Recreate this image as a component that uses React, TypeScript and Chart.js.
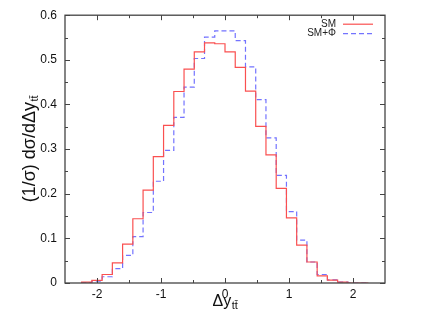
import React, { useEffect, useRef } from "react";
import { Chart, registerables } from "chart.js";

Chart.register(...registerables);

// Histogram bin edges in Δy_tt̄ (bin width 0.16)
const binEdges = [
  -2.24, -2.08, -1.92, -1.76, -1.6, -1.44, -1.28, -1.12, -0.96, -0.8, -0.64, -0.48, -0.32, -0.16,
  0, 0.16, 0.32, 0.48, 0.64, 0.8, 0.96, 1.12, 1.28, 1.44, 1.6, 1.76, 1.92, 2.08, 2.24,
];

// (1/σ) dσ/dΔy for each bin (one value per bin, left edge order)
const smValues = [
  0, 0.002, 0.006, 0.019, 0.045, 0.087, 0.144, 0.208, 0.283, 0.353, 0.429, 0.479, 0.518, 0.538,
  0.536, 0.518, 0.483, 0.43, 0.351, 0.287, 0.212, 0.146, 0.085, 0.047, 0.016, 0.0066, 0.002, 0,
];
const smPhiValues = [
  0, 0.001, 0.004, 0.014, 0.032, 0.062, 0.104, 0.158, 0.228, 0.297, 0.371, 0.439, 0.503, 0.551,
  0.565, 0.565, 0.543, 0.484, 0.411, 0.325, 0.241, 0.16, 0.096, 0.047, 0.019, 0.007, 0.002, 0,
];

const seriesNames = ["SM", "SM+\u03a6"];
const xTickValues = [-2, -1, 0, 1, 2];
const xMinorTicks = [-1.5, -0.5, 0.5, 1.5];
const yTickValues = [0, 0.1, 0.2, 0.3, 0.4, 0.5, 0.6];
const yMinorTicks = [0.05, 0.15, 0.25, 0.35, 0.45, 0.55];

const RED = "rgb(250,80,80)";
const BLUE = "rgb(115,115,255)";
const FONT = "'Liberation Sans', Arial, Helvetica, sans-serif";

function toSteps(values: number[]) {
  return binEdges.map((x, i) => ({ x, y: i < values.length ? values[i] : values[values.length - 1] }));
}

const framePlugin = {
  id: "frame",
  afterDatasetsDraw(chart: any) {
    const { ctx, chartArea: a, scales } = chart;
    const xs = scales.x;
    const ys = scales.y;
    ctx.save();
    ctx.strokeStyle = "#444";
    ctx.lineWidth = 1;
    const seg = (x1: number, y1: number, x2: number, y2: number) => {
      ctx.beginPath();
      ctx.moveTo(x1, y1);
      ctx.lineTo(x2, y2);
      ctx.stroke();
    };
    xTickValues.forEach((v) => {
      const p = Math.round(xs.getPixelForValue(v)) + 0.5;
      seg(p, a.bottom, p, a.bottom - 5);
      seg(p, a.top, p, a.top + 5);
    });
    xMinorTicks.forEach((v) => {
      const p = Math.round(xs.getPixelForValue(v)) + 0.5;
      seg(p, a.bottom, p, a.bottom - 3);
      seg(p, a.top, p, a.top + 3);
    });
    yTickValues.forEach((v) => {
      const p = Math.round(ys.getPixelForValue(v)) + 0.5;
      seg(a.left, p, a.left + 5, p);
      seg(a.right, p, a.right - 5, p);
    });
    yMinorTicks.forEach((v) => {
      const p = Math.round(ys.getPixelForValue(v)) + 0.5;
      seg(a.left, p, a.left + 3, p);
      seg(a.right, p, a.right - 3, p);
    });
    ctx.lineWidth = 1.3;
    ctx.strokeRect(a.left, a.top, a.right - a.left, a.bottom - a.top);

    // legend
    ctx.font = `10px ${FONT}`;
    ctx.fillStyle = "#222";
    ctx.textAlign = "right";
    ctx.textBaseline = "middle";
    const lx = a.right - 49;
    const rows = [
      { y: a.top + 9, color: RED, dash: [] as number[] },
      { y: a.top + 18.5, color: BLUE, dash: [5, 3] },
    ];
    rows.forEach((r, i) => {
      ctx.fillText(seriesNames[i], lx, r.y);
      ctx.save();
      ctx.strokeStyle = r.color;
      ctx.lineWidth = 1.2;
      ctx.setLineDash(r.dash);
      seg(lx + 7, r.y, lx + 37, r.y);
      ctx.restore();
    });

    // axis titles
    ctx.fillStyle = "#111";
    ctx.textAlign = "left";
    ctx.textBaseline = "alphabetic";
    const main = "\u0394y";
    const sub = "tt\u0304";
    ctx.font = `16px ${FONT}`;
    const mw = ctx.measureText(main).width;
    ctx.font = `11px ${FONT}`;
    const sw = ctx.measureText(sub).width;
    const cx = (a.left + a.right) / 2;
    const bx = cx - (mw + sw) / 2;
    const by = 306;
    ctx.font = `16px ${FONT}`;
    ctx.fillText(main, bx, by);
    ctx.font = `11px ${FONT}`;
    ctx.fillText(sub, bx + mw + 0.5, by + 3);

    const ymain = "(1/\u03c3) d\u03c3/d\u0394y";
    ctx.font = `18px ${FONT}`;
    const ymw = ctx.measureText(ymain).width;
    ctx.font = `11px ${FONT}`;
    const ysw = ctx.measureText(sub).width;
    ctx.save();
    ctx.translate(35, (a.top + a.bottom) / 2);
    ctx.rotate(-Math.PI / 2);
    const sx = -(ymw + ysw) / 2;
    ctx.font = `18px ${FONT}`;
    ctx.fillText(ymain, sx, 0);
    ctx.font = `11px ${FONT}`;
    ctx.fillText(sub, sx + ymw + 0.5, 3);
    ctx.restore();

    ctx.restore();
  },
};

export default function App() {
  const ref = useRef<HTMLCanvasElement | null>(null);
  useEffect(() => {
    if (!ref.current) return;
    const chart = new Chart(ref.current, {
      type: "line",
      data: {
        datasets: [
          {
            label: seriesNames[0],
            data: toSteps(smValues),
            stepped: "after",
            borderColor: RED,
            borderWidth: 1.2,
            pointRadius: 0,
            fill: false,
          },
          {
            label: seriesNames[1],
            data: toSteps(smPhiValues),
            stepped: "after",
            borderColor: BLUE,
            borderWidth: 1.2,
            borderDash: [5, 3],
            pointRadius: 0,
            fill: false,
          },
        ],
      },
      options: {
        responsive: false,
        animation: false,
        layout: { padding: { top: 10, right: 44, left: 0, bottom: 0 } },
        plugins: { legend: { display: false }, tooltip: { enabled: false } },
        scales: {
          x: {
            type: "linear",
            min: -2.5,
            max: 2.5,
            afterBuildTicks: (s: any) => {
              s.ticks = xTickValues.map((v) => ({ value: v }));
            },
            afterFit: (s: any) => {
              s.height = 36;
            },
            grid: { display: false, drawTicks: false },
            border: { display: false },
            ticks: {
              padding: 4,
              color: "#111",
              font: { family: FONT, size: 12 },
              callback: (v: any) => String(v),
              maxRotation: 0,
            },
          },
          y: {
            type: "linear",
            min: 0,
            max: 0.6,
            afterBuildTicks: (s: any) => {
              s.ticks = yTickValues.map((v) => ({ value: v }));
            },
            afterFit: (s: any) => {
              s.width = 65;
            },
            grid: { display: false, drawTicks: false },
            border: { display: false },
            ticks: {
              padding: 8,
              color: "#111",
              font: { family: FONT, size: 12 },
              callback: (v: any) => String(Math.round(Number(v) * 10) / 10),
            },
          },
        },
      },
      plugins: [framePlugin],
    });
    return () => chart.destroy();
  }, []);
  return (
    <div style={{ position: "fixed", left: 0, top: 0, width: 429, height: 319, background: "#fff" }}>
      <canvas ref={ref} width={429} height={319} style={{ width: 429, height: 319, display: "block" }} />
    </div>
  );
}
